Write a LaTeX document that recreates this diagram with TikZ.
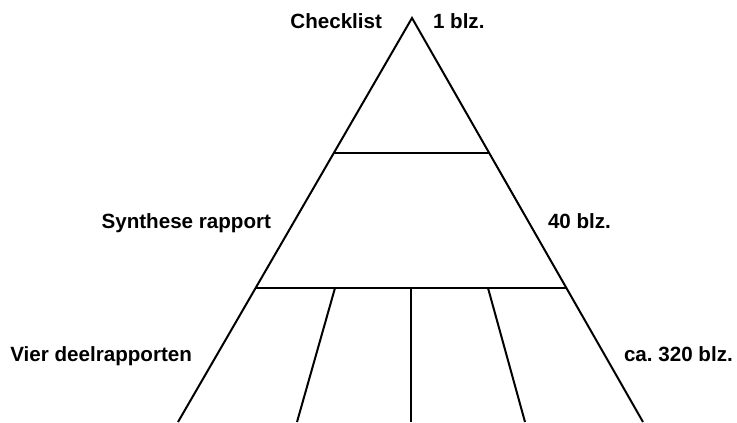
\documentclass[tikz,border=0pt]{standalone}
\usepackage{fontspec}
\setmainfont{Liberation Sans}
\usetikzlibrary{positioning, calc}

\begin{document}
\begin{tikzpicture}[x=0.5pt, y=-0.5pt, line width=1pt, inner sep=0pt,
		lbl/.style={font=\fontsize{10.3}{12}\selectfont\bfseries}]
		\useasboundingbox (0,0) rectangle (737,422);

		% triangle corners and levels
		\coordinate (T) at (412,18);
		\coordinate (BL) at (178,422);
		\coordinate (BR) at (643,422);
		\coordinate (L1) at ($(T)!0.334!(BL)$);
		\coordinate (R1) at ($(T)!0.334!(BR)$);
		\coordinate (L2) at ($(T)!0.668!(BL)$);
		\coordinate (R2) at ($(T)!0.668!(BR)$);

		\coordinate (S1) at (335,288);
		\coordinate (S2) at (411,288);
		\coordinate (S3) at (488,288);
		\coordinate (E1) at (297,422);
		\coordinate (E2) at (411,422);
		\coordinate (E3) at (525,422);

		\node[lbl, anchor=base east](check) at (383,29) {Checklist};
		\node[lbl, anchor=base west](checkp) at (432,29) {1 blz.};
		\node[lbl, anchor=base east](synth) at (272,228) {Synthese rapport};
		\node[lbl, anchor=base west](synthp) at (547,228) {40 blz.};
		\node[lbl, anchor=base east](deel) at (193,361) {Vier deelrapporten};
		\node[lbl, anchor=base west](deelp) at (623,361) {ca.\ 320 blz.};

		\draw (BL) -- (T) -- (BR);
		\draw (L1) -- (R1);
		\draw (L2) -- (R2);

		\draw (S1) -- (E1);
		\draw (S2) -- (E2);
		\draw (S3) -- (E3);
	\end{tikzpicture}
\end{document}
